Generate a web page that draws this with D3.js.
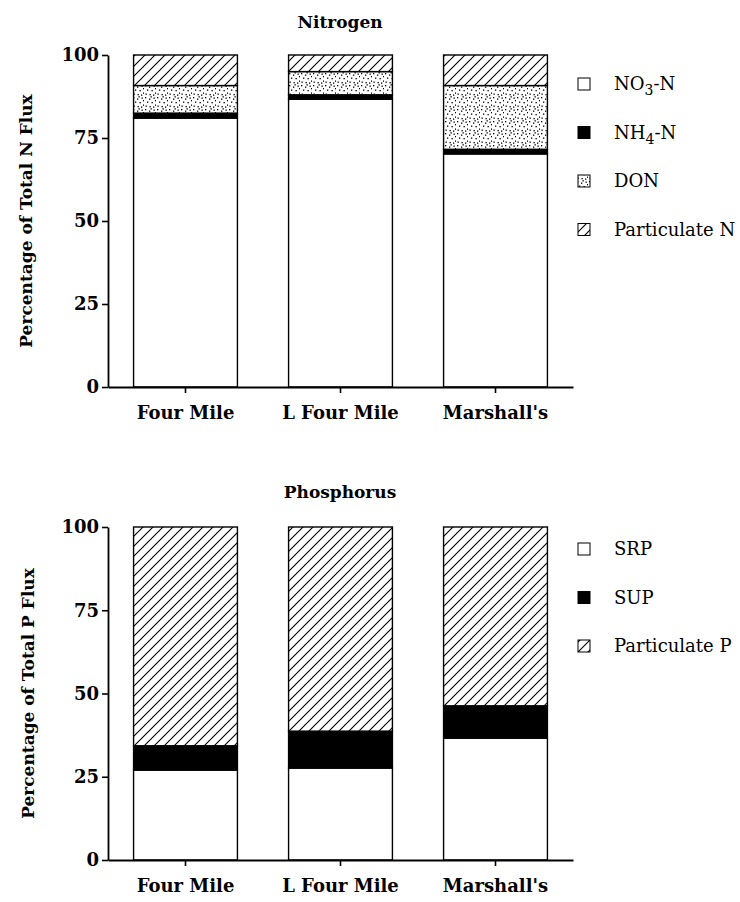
<!DOCTYPE html>
<html>
<head>
<meta charset="utf-8">
<script src="https://cdn.jsdelivr.net/npm/d3@7"></script>
<style>
  html, body { margin: 0; padding: 0; background: #fff; }
  svg { display: block; }
  text { font-family: "DejaVu Serif", "Liberation Serif", serif; fill: #000; }
</style>
</head>
<body>
<svg id="chart" width="740" height="902"></svg>
<script>
// Sites along the x axis
const sites = ["Four Mile", "L Four Mile", "Marshall's"];
const yTicks = [0, 25, 50, 75, 100];

// Nitrogen flux composition (% of total N)
const nitrogenKeys = ["NO3-N", "NH4-N", "DON", "Particulate N"];
const no3 = [81.0, 86.7, 70.2];
const nh4 = [1.5, 1.3, 1.4];
const don = [8.3, 7.0, 19.2];
const partN = [9.2, 5.0, 9.2];

// Phosphorus flux composition (% of total P)
const phosphorusKeys = ["SRP", "SUP", "Particulate P"];
const srp = [27.0, 27.6, 36.6];
const sup = [7.3, 11.1, 9.7];
const partP = [65.7, 61.3, 53.7];

const svg = d3.select("#chart");
const defs = svg.append("defs");

// diagonal hatch fill
const hatch = defs.append("pattern")
  .attr("id", "hatch").attr("patternUnits", "userSpaceOnUse")
  .attr("width", 10).attr("height", 10);
hatch.append("rect").attr("width", 10).attr("height", 10).attr("fill", "#fff");
hatch.append("path")
  .attr("d", "M-2,12 L12,-2 M-2,2 L2,-2 M8,12 L12,8")
  .attr("stroke", "#000").attr("stroke-width", 1.1);

// stipple fill
const stip = defs.append("pattern")
  .attr("id", "stipple").attr("patternUnits", "userSpaceOnUse")
  .attr("width", 12).attr("height", 12);
stip.append("rect").attr("width", 12).attr("height", 12).attr("fill", "#fff");
[[1, 1], [5, 2.5], [9.5, 1.5], [3, 5.5], [7.5, 6], [11, 4], [11, 8.5], [1.5, 9.5], [5.5, 10], [9, 10.5], [6.5, 0.2]]
  .forEach(([cx, cy]) => stip.append("rect")
    .attr("x", cx).attr("y", cy).attr("width", 1.3).attr("height", 1.3).attr("fill", "#000"));

const fills = {
  "NO3-N": "#fff", "NH4-N": "#000", "DON": "url(#stipple)", "Particulate N": "url(#hatch)",
  "SRP": "#fff", "SUP": "#000", "Particulate P": "url(#hatch)"
};

// legend label markup: [text, subscript, rest]
const legendText = {
  "NO3-N": ["NO", "3", "-N"], "NH4-N": ["NH", "4", "-N"], "DON": ["DON"],
  "Particulate N": ["Particulate N"], "SRP": ["SRP"], "SUP": ["SUP"], "Particulate P": ["Particulate P"]
};

const x = d3.scaleBand().domain(sites).range([108, 573]).paddingInner(0.33).paddingOuter(0.165);

function panel(opts) {
  const { title, titleY, yTitle, yTitleX, yRange, keys, series, legendY } = opts;
  const y = d3.scaleLinear().domain([0, 100]).range(yRange);
  const g = svg.append("g");

  const rows = sites.map((s, i) => {
    const r = { site: s };
    keys.forEach((k, j) => r[k] = series[j][i]);
    return r;
  });
  const stacked = d3.stack().keys(keys)(rows);

  stacked.forEach(layer => {
    g.append("g").selectAll("rect").data(layer).join("rect")
      .attr("x", d => x(d.data.site))
      .attr("width", x.bandwidth())
      .attr("y", d => y(d[1]))
      .attr("height", d => y(d[0]) - y(d[1]))
      .attr("fill", fills[layer.key])
      .attr("stroke", "#000").attr("stroke-width", 1.4);
  });

  // axes
  const ya = g.append("g").attr("transform", `translate(108,0)`)
    .call(d3.axisLeft(y).tickValues(yTicks).tickSize(6).tickPadding(3).tickSizeOuter(0));
  const xa = g.append("g").attr("transform", `translate(0,${yRange[0]})`)
    .call(d3.axisBottom(x).tickSize(6).tickPadding(13).tickSizeOuter(0));
  [ya, xa].forEach(a => {
    a.select(".domain").attr("stroke", "#000").attr("stroke-width", 1.8);
    a.selectAll(".tick line").attr("stroke", "#000").attr("stroke-width", 1.6);
    a.selectAll(".tick text").attr("font-family", "DejaVu Serif").attr("font-size", 18)
      .attr("font-weight", "bold").attr("fill", "#000");
  });

  svg.append("text").attr("x", 340).attr("y", titleY).attr("text-anchor", "middle")
    .attr("font-size", 17).attr("font-weight", "bold").text(title);

  svg.append("text")
    .attr("transform", `translate(${yTitleX},${(yRange[0] + yRange[1]) / 2}) rotate(-90)`)
    .attr("text-anchor", "middle").attr("dominant-baseline", "middle")
    .attr("font-size", 17).attr("font-weight", "bold").text(yTitle);

  // legend
  keys.forEach((k, i) => {
    const ly = legendY + i * 48.5;
    svg.append("rect").attr("x", 578).attr("y", ly - 6).attr("width", 12).attr("height", 12)
      .attr("fill", fills[k]).attr("stroke", "#000").attr("stroke-width", 1);
    const t = svg.append("text").attr("x", 614).attr("y", ly + 6).attr("font-size", 18);
    const parts = legendText[k];
    t.append("tspan").text(parts[0]);
    if (parts.length > 1) {
      t.append("tspan").attr("dy", 5).attr("font-size", 14).text(parts[1]);
      t.append("tspan").attr("dy", -5).text(parts[2]);
    }
  });
}

panel({
  title: "Nitrogen", titleY: 28, yTitle: "Percentage of Total N Flux", yTitleX: 27,
  yRange: [387, 55], keys: nitrogenKeys, series: [no3, nh4, don, partN], legendY: 84
});
panel({
  title: "Phosphorus", titleY: 498, yTitle: "Percentage of Total P Flux", yTitleX: 29,
  yRange: [860, 527], keys: phosphorusKeys, series: [srp, sup, partP], legendY: 549
});
</script>
</body>
</html>
